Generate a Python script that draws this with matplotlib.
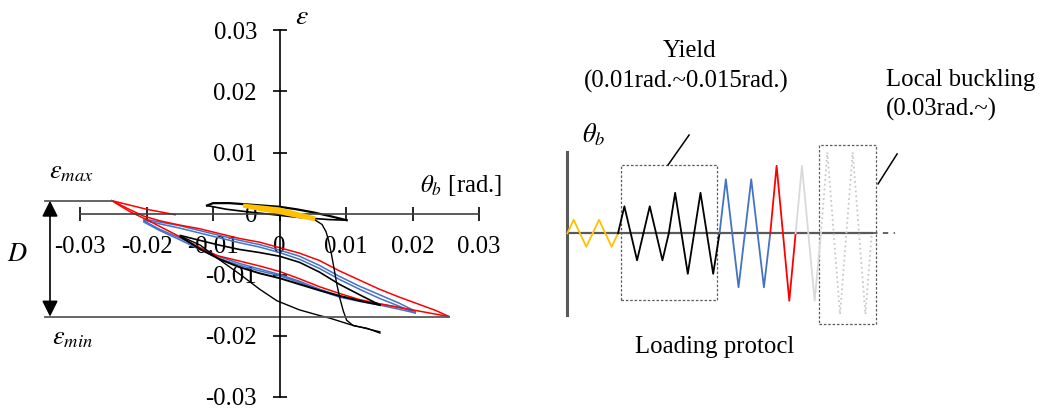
import matplotlib
matplotlib.use('Agg')
import matplotlib.pyplot as plt
from matplotlib.patches import Rectangle

plt.rcParams['font.family'] = ['Liberation Serif', 'DejaVu Serif']
plt.rcParams['mathtext.fontset'] = 'stix'
plt.rcParams['axes.unicode_minus'] = False
plt.rcParams['font.size'] = 17.8

# --- hysteresis of strain vs. rotation, one list pair per branch ---
tick_vals = [-0.03, -0.02, -0.01, 0, 0.01, 0.02, 0.03]
tick_text = ['-0.03', '-0.02', '-0.01', '0', '0.01', '0.02', '0.03']

yellow_up_th = [-0.0052, -0.0025, 0.0, 0.0025, 0.0051]
yellow_up_ep = [0.0013, 0.0010, 0.0007, 0.0000, -0.0007]
yellow_lo_th = [-0.0052, -0.0025, 0.0, 0.0025, 0.0051]
yellow_lo_ep = [0.0012, 0.0006, 0.0002, -0.0004, -0.0009]

k10_up_th = [-0.0109, -0.0100, -0.0075, -0.0050, -0.0025, 0.0, 0.0025, 0.0050, 0.0075, 0.0101]
k10_up_ep = [0.0013, 0.0017, 0.0017, 0.0015, 0.0013, 0.0011, 0.0007, 0.0002, -0.0004, -0.0011]
k10_lo_th = [-0.0109, -0.0080, -0.0050, -0.0025, 0.0, 0.0025, 0.0050, 0.0075, 0.0101]
k10_lo_ep = [0.0013, 0.0007, 0.0003, 0.0000, -0.0003, -0.0006, -0.0008, -0.0010, -0.0011]

k15_th = [-0.0149, -0.0120, -0.0090, -0.0060, -0.0030, 0.0, 0.0030, 0.0060, 0.0090, 0.0120, 0.0151]
k15_up_ep = [-0.0036, -0.0044, -0.0052, -0.0059, -0.0064, -0.0070, -0.0080, -0.0096, -0.0116, -0.0133, -0.0150]
k15_lo_ep = [-0.0038, -0.0058, -0.0075, -0.0088, -0.0098, -0.0106, -0.0116, -0.0126, -0.0135, -0.0143, -0.0150]

blue_th = [-0.0204, -0.0180, -0.0150, -0.0120, -0.0090, -0.0060, -0.0030, 0.0,
           0.0030, 0.0060, 0.0090, 0.0120, 0.0150, 0.0180, 0.0204]
blue1_up_ep = [-0.0009, -0.0014, -0.0020, -0.0028, -0.0036, -0.0044, -0.0051, -0.0060,
               -0.0070, -0.0085, -0.0103, -0.0119, -0.0133, -0.0147, -0.0160]
blue2_up_ep = [-0.0011, -0.0017, -0.0024, -0.0032, -0.0040, -0.0048, -0.0055, -0.0064,
               -0.0075, -0.0090, -0.0108, -0.0124, -0.0139, -0.0152, -0.0163]
blue1_lo_ep = [-0.0012, -0.0026, -0.0040, -0.0056, -0.0071, -0.0082, -0.0091, -0.0100,
               -0.0111, -0.0124, -0.0135, -0.0142, -0.0148, -0.0154, -0.0160]
blue2_lo_ep = [-0.0014, -0.0028, -0.0043, -0.0059, -0.0074, -0.0085, -0.0094, -0.0102,
               -0.0113, -0.0126, -0.0137, -0.0144, -0.0150, -0.0157, -0.0163]

red_up_th = [-0.0252, -0.0230, -0.0205, -0.0180, -0.0150, -0.0120, -0.0090, -0.0060, -0.0030, 0.0,
             0.0030, 0.0060, 0.0090, 0.0120, 0.0150, 0.0180, 0.0210, 0.0235, 0.0255]
red_up_ep = [0.0021, 0.0009, -0.0004, -0.0012, -0.0019, -0.0025, -0.0033, -0.0041, -0.0047, -0.0056,
             -0.0065, -0.0077, -0.0094, -0.0109, -0.0124, -0.0137, -0.0149, -0.0159, -0.0169]
red_lo_th = [-0.0252, -0.0225, -0.0200, -0.0175, -0.0150, -0.0120, -0.0094, -0.0060, -0.0030, 0.0,
             0.0030, 0.0060, 0.0090, 0.0120, 0.0150, 0.0180, 0.0210, 0.0235, 0.0255]
red_lo_ep = [0.0021, 0.0003, -0.0010, -0.0024, -0.0038, -0.0056, -0.0069, -0.0078, -0.0086, -0.0095,
             -0.0107, -0.0120, -0.0131, -0.0141, -0.0148, -0.0154, -0.0160, -0.0165, -0.0169]
red_tail_th = [-0.0252, -0.0200, -0.0157]
red_tail_ep = [0.0021, 0.0007, -0.0002]

# gauge drifting away after the 0.01 rad. and 0.015 rad. cycles
drift1_th = [0.0054, 0.0064, 0.0070, 0.0074, 0.0078, 0.0082, 0.0086, 0.0091, 0.0096, 0.0101, 0.0111, 0.0131, 0.0151]
drift1_ep = [-0.0011, -0.0018, -0.0030, -0.0045, -0.0066, -0.0090, -0.0115, -0.0140, -0.0160, -0.0175, -0.0184, -0.0188, -0.0196]
drift2_th = [-0.0149, -0.0119, -0.0090, -0.0059, -0.0030, -0.0004, 0.0030, 0.0056, 0.0077, 0.0106, 0.0151]
drift2_ep = [-0.0037, -0.0052, -0.0076, -0.0100, -0.0124, -0.0143, -0.0158, -0.0166, -0.0172, -0.0182, -0.0194]

# --- loading protocol: amplitude [rad.] of each cycle ---
cycle_amp = [0.005, 0.005, 0.01, 0.01, 0.015, 0.015, 0.02, 0.02, 0.025, 0.025, 0.03, 0.03]
cycle_color = ['#ffc000', '#ffc000', 'black', 'black', 'black', 'black',
               '#4472c4', '#4472c4', '#ff0000', '#d9d9d9', '#c8c8c8', '#c8c8c8']
cycle_style = ['-'] * 10 + [':', ':']

W, H = 1039, 409
fig = plt.figure(figsize=(W / 100, H / 100), dpi=100)

# left panel, axes placed so ticks land on fixed pixels
y0 = 213.5
ax = fig.add_axes([30 / W, 4 / H, 470 / W, 400 / H])
ax.set_xlim((30 - 279.5) / 6650, (500 - 279.5) / 6650)
ax.set_ylim((y0 - 405) / 6100, (y0 - 5) / 6100)
ax.patch.set_visible(False)

ax.plot(k10_up_th, k10_up_ep, color='black', lw=1.6)
ax.plot(k10_lo_th, k10_lo_ep, color='black', lw=1.2)
ax.plot(yellow_up_th, yellow_up_ep, color='#ffc000', lw=2.6, zorder=3)
ax.plot(yellow_lo_th, yellow_lo_ep, color='#ffc000', lw=2.6, zorder=3)
for ep in [blue1_up_ep, blue2_up_ep, blue1_lo_ep, blue2_lo_ep]:
    ax.plot(blue_th, ep, color='#4472c4', lw=1.1)
ax.plot(red_up_th, red_up_ep, color='#ff0000', lw=1.1)
ax.plot(red_lo_th, red_lo_ep, color='#ff0000', lw=1.1)
ax.plot(red_tail_th, red_tail_ep, color='#ff0000', lw=1.1)
ax.plot(k15_th, k15_up_ep, color='black', lw=1.2)
ax.plot(k15_th, k15_lo_ep, color='black', lw=1.4)
ax.plot(drift1_th, drift1_ep, color='black', lw=1.0)
ax.plot(drift2_th, drift2_ep, color='black', lw=1.0)

for s in ['top', 'right']:
    ax.spines[s].set_visible(False)
ax.spines['left'].set_position(('data', 0))
ax.spines['bottom'].set_position(('data', 0))
ax.spines['left'].set_bounds(-0.03, 0.03)
ax.spines['bottom'].set_bounds(-0.03, 0.03)
ax.spines['bottom'].set_color('#404040')
ax.spines['left'].set_linewidth(1.2)
ax.spines['bottom'].set_linewidth(1.2)
ax.set_xticks(tick_vals)
ax.set_xticklabels(tick_text)
ax.set_yticks(tick_vals)
ax.set_yticklabels(tick_text)
ax.tick_params(direction='inout', length=10, width=1.2, labelsize=17.8)
ax.tick_params(axis='x', pad=11.5)
ax.tick_params(axis='y', pad=11.2)

# range of strain between extremes of the largest loop
eps_max = max(red_up_ep)
eps_min = min(red_up_ep)
x_left = (45 - 279.5) / 6650
ax.plot([x_left, red_up_th[0]], [eps_max, eps_max], color='#595959', lw=1.3)
ax.plot([x_left, red_up_th[-1]], [eps_min, eps_min], color='#595959', lw=1.3)
x_arr = (50 - 279.5) / 6650
ax.annotate('', xy=(x_arr, eps_min), xytext=(x_arr, eps_max),
            arrowprops=dict(arrowstyle='<|-|>', color='black', lw=1.2,
                            mutation_scale=24, shrinkA=0, shrinkB=0))

def fig_text(x, y, s, **kw):
    fig.text(x / W, 1 - y / H, s, ha=kw.pop('ha', 'center'),
             va=kw.pop('va', 'center'), **kw)

fig_text(302, 18, r'$\varepsilon$', fontsize=20)
fig_text(461, 186, r'$\theta_b$ [rad.]')
fig_text(71, 173, r'$\varepsilon_{max}$', fontsize=19)
fig_text(72, 339, r'$\varepsilon_{min}$', fontsize=19)
fig_text(17, 255, r'$D$', fontsize=19)

# right panel: triangular loading history
ax2 = fig.add_axes([540 / W, 0, 499 / W, 1])
ax2.set_xlim((540 - 567.3) / 25.37, (1039 - 567.3) / 25.37)
ax2.set_ylim((233.3 - 409) / 2700, 233.3 / 2700)
ax2.axis('off')

for i, amp in enumerate(cycle_amp):
    ax2.plot([i, i + 0.25, i + 0.75, i + 1], [0, amp, -amp, 0],
             color=cycle_color[i], ls=cycle_style[i], lw=1.3, zorder=3)

n = len(cycle_amp)
ax2.plot([0, n], [0, 0], color='#595959', lw=1.6, zorder=2)
ax2.plot([n, n + 0.92], [0, 0], color='#595959', lw=1.3, ls=(0, (3, 3)))
ax2.plot([0, 0], [-0.0303, 0.0301], color='#595959', lw=2.2)

box_kw = dict(fill=False, ec='#595959', lw=0.9, ls=(0, (2, 1.5)))
ax2.add_patch(Rectangle((2.105, -0.0247), 5.91 - 2.105, 0.05, **box_kw))
ax2.add_patch(Rectangle((9.91, -0.0336), 12.17 - 9.91, 0.0663, **box_kw))
ax2.plot([3.97, 4.80], [0.0253, 0.0364], color='black', lw=1.1)
ax2.plot([12.25, 13.0], [0.0183, 0.0294], color='black', lw=1.1)

fig_text(594, 135, r'$\theta_b$', fontsize=19)
fig_text(690, 51, 'Yield')
fig_text(686, 81, '(0.01rad.~0.015rad.)')
fig_text(886, 80, 'Local buckling', ha='left')
fig_text(886, 109, '(0.03rad.~)', ha='left')
fig_text(715, 347, 'Loading protocl')

fig.savefig('out.png', dpi=100)
